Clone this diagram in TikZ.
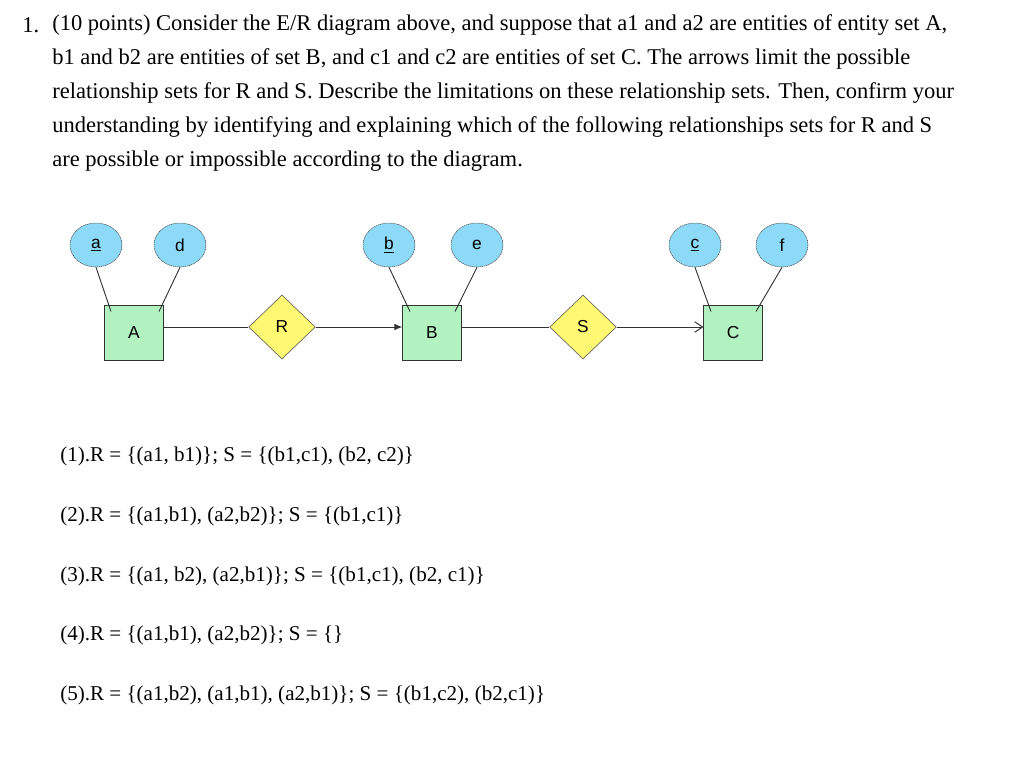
\documentclass[tikz,border=0pt]{standalone}
\usepackage{fontspec}
\setmainfont{Liberation Serif}
\newfontfamily\lab{Liberation Sans}
\usetikzlibrary{shapes.geometric,arrows.meta}
\begin{document}
\begin{tikzpicture}[x=0.75pt,y=-0.75pt,
  txt/.style={anchor=west,inner sep=0pt,font=\fontsize{16.9pt}{18pt}\selectfont},
  itm/.style={anchor=west,inner sep=0pt,font=\fontsize{15.8pt}{18pt}\selectfont},
  attr/.style={ellipse,draw=black!70,dashed,dash pattern=on 1pt off 0.5pt,fill=cyan!45,minimum width=39pt,minimum height=33pt,inner sep=0pt,font=\lab\fontsize{13pt}{14pt}\selectfont},
  ent/.style={rectangle,draw=black!80,fill=teal!35!green!30,minimum width=44pt,minimum height=41pt,font=\lab\fontsize{13pt}{14pt}\selectfont},
  rel/.style={diamond,draw=black!70,fill=yellow!55,minimum width=50pt,minimum height=48pt,inner sep=0pt,font=\lab\fontsize{13pt}{14pt}\selectfont},
  ln/.style={draw=black!80,line width=0.7pt}]
\useasboundingbox (0,0) rectangle (1024,769);
\node[txt] (n1) at (22,25) {1.};
\node[txt] (l1) at (52,25) {(10 points) Consider the E/R diagram above, and suppose that a1 and a2 are entities of entity set A,};
\node[txt] (l2) at (52,59) {b1 and b2 are entities of set B, and c1 and c2 are entities of set C. The arrows limit the possible};
\node[txt] (l3) at (52,93) {relationship sets for R and S. Describe the limitations on these relationship sets. Then, confirm your};
\node[txt] (l4) at (52,127) {understanding by identifying and explaining which of the following relationships sets for R and S};
\node[txt] (l5) at (52,161) {are possible or impossible according to the diagram.};
\node[attr] (a) at (96,245) {\underline{a}};
\node[attr] (d) at (180,245) {d};
\node[attr] (b) at (389,245) {\underline{b}};
\node[attr] (e) at (477,245) {e};
\node[attr] (c) at (695,245) {\underline{c}};
\node[attr] (f) at (782,245) {f};
\node[ent] (A) at (134,333) {A};
\node[ent] (B) at (432,333) {B};
\node[ent] (C) at (733,333) {C};
\node[rel] (R) at (282,327) {R};
\node[rel] (S) at (583,327) {S};
\draw[ln] (a.south) -- (111,311.5);
\draw[ln] (d.south) -- (159,311.5);
\draw[ln] (b.south) -- (410,311.5);
\draw[ln] (e.south) -- (455,311.5);
\draw[ln] (c.south) -- (711,311.5);
\draw[ln] (f.south) -- (756,311.5);
\draw[ln] (A.east |- R) -- (R.west);
\draw[ln,-{Latex[length=6pt,width=5pt]}] (R.east) -- (B.west |- R);
\draw[ln] (B.east |- S) -- (S.west);
\draw[ln,-{Straight Barb[length=6pt,width=8pt]}] (S.east) -- (C.west |- S);
\node[itm] (i1) at (60,456) {(1).R = \{(a1, b1)\}; S = \{(b1,c1), (b2, c2)\}};
\node[itm] (i2) at (60,516) {(2).R = \{(a1,b1), (a2,b2)\}; S = \{(b1,c1)\}};
\node[itm] (i3) at (60,576) {(3).R = \{(a1, b2), (a2,b1)\}; S = \{(b1,c1), (b2, c1)\}};
\node[itm] (i4) at (60,635) {(4).R = \{(a1,b1), (a2,b2)\}; S = \{\}};
\node[itm] (i5) at (60,695) {(5).R = \{(a1,b2), (a1,b1), (a2,b1)\}; S = \{(b1,c2), (b2,c1)\}};
\end{tikzpicture}
\end{document}
